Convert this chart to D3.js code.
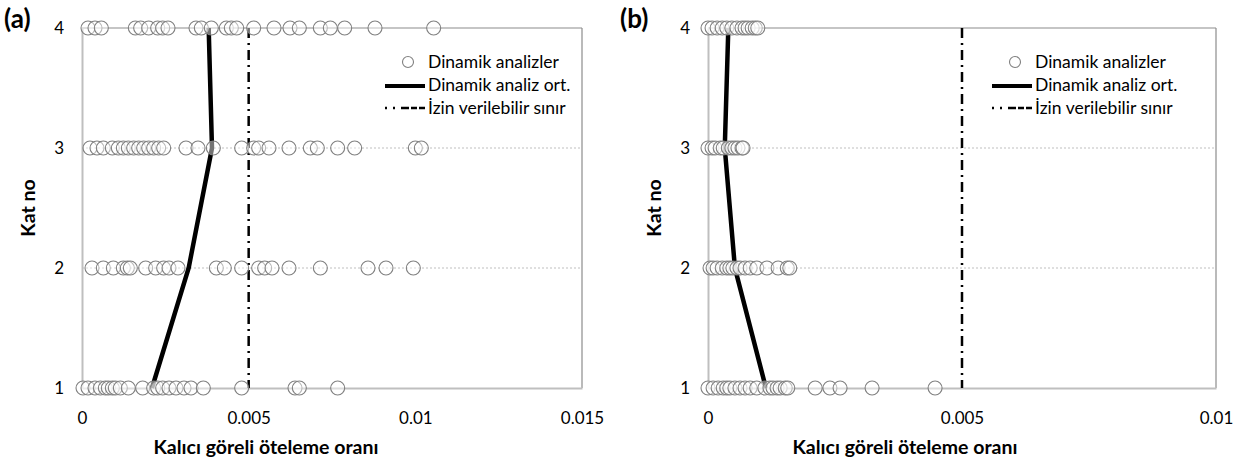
<!DOCTYPE html>
<html><head><meta charset="utf-8">
<script src="https://cdn.jsdelivr.net/npm/d3@7"></script>
<style>
body{margin:0;background:#fff}
text{font-family:Lato,"Open Sans","DejaVu Sans",sans-serif;fill:#000}
</style>
</head><body>
<svg id="chart" width="1244" height="463"></svg>
<script>
// Residual inter-storey drift ratios per floor, from the dynamic analyses
const floors = [1, 2, 3, 4];

// Panel (a)
const aFloor1 = [0.00003,0.00018,0.00039,0.00055,0.0007,0.00079,0.00091,0.001,0.00115,0.00139,0.00182,0.00215,0.00227,0.00242,0.00261,0.00282,0.00306,0.00327,0.00364,0.00479,0.00639,0.00652,0.00767];
const aFloor2 = [0.0003,0.00064,0.00094,0.00124,0.00136,0.00145,0.00191,0.00221,0.00245,0.00261,0.00288,0.00403,0.00427,0.00479,0.0053,0.00548,0.0057,0.00621,0.00715,0.00858,0.00912,0.00994];
const aFloor3 = [0.00024,0.00045,0.00064,0.00091,0.00109,0.00124,0.00139,0.00155,0.0017,0.00185,0.002,0.00215,0.0023,0.00245,0.00312,0.00348,0.00394,0.00479,0.00515,0.0053,0.00561,0.00621,0.00685,0.00706,0.00767,0.00818,0.01,0.01018];
const aFloor4 = [0.00018,0.00039,0.00058,0.0016,0.00176,0.002,0.00227,0.00242,0.00258,0.00342,0.00358,0.00388,0.00433,0.00448,0.00464,0.00515,0.00576,0.00624,0.00652,0.00715,0.00745,0.00788,0.00879,0.01055];
const aMean = [0.0021, 0.0032, 0.0039, 0.0038];

// Panel (b)
const bFloor1 = [0,0.0001,0.0002,0.0003,0.00037,0.00043,0.00053,0.00063,0.00073,0.00083,0.00096,0.00112,0.00122,0.00128,0.00136,0.00142,0.00152,0.00157,0.00211,0.0024,0.0026,0.00323,0.00447];
const bFloor2 = [0.00004,0.0001,0.00018,0.00028,0.00037,0.00043,0.00049,0.00057,0.00063,0.00073,0.00083,0.00096,0.00116,0.00138,0.00156,0.00161];
const bFloor3 = [0,0.00008,0.00014,0.00024,0.0003,0.0004,0.00047,0.00053,0.00059,0.00067,0.00069];
const bFloor4 = [0,0.00008,0.00018,0.00028,0.00037,0.00047,0.00057,0.00067,0.00073,0.00079,0.00087,0.00093,0.00098];
const bMean = [0.00114, 0.00053, 0.00033, 0.0004];

const driftLimit = 0.005;
const aTicks = [0, 0.005, 0.01, 0.015];
const bTicks = [0, 0.005, 0.01];
const legendLabels = ["Dinamik analizler", "Dinamik analiz ort.", "İzin verilebilir sınır"];
const xTitle = "Kalıcı göreli öteleme oranı";
const yTitle = "Kat no";

const svg = d3.select("#chart");
const TOP = 28, BOTTOM = 388;
const FONT = "Lato,'Open Sans',sans-serif";

function drawPanel(p) {
  const g = svg.append("g");
  const x = d3.scaleLinear().domain([0, p.ticks[p.ticks.length - 1]]).range([p.left, p.right]);
  const y = d3.scaleLinear().domain([1, 4]).range([BOTTOM, TOP]);

  // dotted gridlines at intermediate floors
  g.selectAll("line.grid").data([2, 3]).join("line")
    .attr("x1", p.left).attr("x2", p.right)
    .attr("y1", d => y(d)).attr("y2", d => y(d))
    .attr("stroke", "#bfbfbf").attr("stroke-width", 1).attr("stroke-dasharray", "2,2");

  // plot frame: top and right
  g.append("line").attr("x1", p.left).attr("x2", p.right).attr("y1", y(4)).attr("y2", y(4))
    .attr("stroke", "#8c8c8c").attr("stroke-width", 1.2);
  g.append("line").attr("x1", p.right).attr("x2", p.right).attr("y1", y(4)).attr("y2", y(1))
    .attr("stroke", "#8c8c8c").attr("stroke-width", 1.2);

  // axes
  const xAxis = d3.axisBottom(x).tickValues(p.ticks).tickSize(0).tickPadding(24)
    .tickFormat(d => String(+d.toFixed(3)));
  const gx = g.append("g").attr("transform", `translate(0,${BOTTOM})`).call(xAxis);
  gx.select(".domain").attr("stroke", "#bfbfbf").attr("stroke-width", 2);
  gx.selectAll("text").attr("font-size", 17).attr("font-family", FONT).attr("fill", "#000");

  const yAxis = d3.axisLeft(y).tickValues(floors).tickSize(0).tickPadding(18).tickFormat(d3.format("d"));
  const gy = g.append("g").attr("transform", `translate(${p.left},0)`).call(yAxis);
  gy.select(".domain").attr("stroke", "#bfbfbf").attr("stroke-width", 2);
  gy.selectAll("text").attr("font-size", 17).attr("font-family", FONT).attr("fill", "#000");

  // permissible limit
  g.append("line").attr("x1", x(driftLimit)).attr("x2", x(driftLimit))
    .attr("y1", y(4)).attr("y2", y(1))
    .attr("stroke", "#000").attr("stroke-width", 2.5).attr("stroke-dasharray", "10,5,2,5");

  // mean profile
  const line = d3.line().x(d => x(d[0])).y(d => y(d[1]));
  g.append("path").datum(p.mean.map((v, i) => [v, floors[i]]))
    .attr("d", line).attr("fill", "none").attr("stroke", "#000").attr("stroke-width", 4.5);

  // individual analyses
  const pts = [];
  p.rows.forEach((arr, i) => arr.forEach(v => pts.push([v, floors[i]])));
  g.selectAll("circle.pt").data(pts).join("circle")
    .attr("cx", d => x(d[0])).attr("cy", d => y(d[1])).attr("r", 7)
    .attr("fill", "#fff").attr("fill-opacity", 0.45)
    .attr("stroke", "#808080").attr("stroke-width", 1.1);

  // titles
  g.append("text").attr("x", p.panelX).attr("y", 28).attr("font-size", 26).attr("font-weight", "bold").text(p.tag);
  g.append("text").attr("transform", `translate(${p.left - 47},${(TOP + BOTTOM) / 2}) rotate(-90)`)
    .attr("text-anchor", "middle").attr("font-size", 19.5).attr("font-weight", "bold").text(yTitle);
  g.append("text").attr("x", p.titleX).attr("y", 454).attr("text-anchor", "middle")
    .attr("font-size", 19.5).attr("font-weight", "bold").text(xTitle);

  // legend
  const lx = p.legendX;
  const lg = g.append("g");
  lg.append("circle").attr("cx", lx + 23).attr("cy", 62).attr("r", 5.5)
    .attr("fill", "#fff").attr("stroke", "#808080").attr("stroke-width", 1.1);
  lg.append("line").attr("x1", lx).attr("x2", lx + 40).attr("y1", 86).attr("y2", 86)
    .attr("stroke", "#000").attr("stroke-width", 4);
  lg.append("line").attr("x1", lx).attr("x2", lx + 40).attr("y1", 108).attr("y2", 108)
    .attr("stroke", "#000").attr("stroke-width", 2.5).attr("stroke-dasharray", "2,6,2,6,8");
  lg.selectAll("text").data(legendLabels).join("text")
    .attr("x", lx + 43).attr("y", (d, i) => 68 + i * 23)
    .attr("font-size", 17.5).text(d => d);
}

drawPanel({ tag: "(a)", panelX: 4, left: 82, right: 582, ticks: aTicks, mean: aMean,
  rows: [aFloor1, aFloor2, aFloor3, aFloor4], titleX: 266, legendX: 385 });
drawPanel({ tag: "(b)", panelX: 620, left: 708, right: 1216, ticks: bTicks, mean: bMean,
  rows: [bFloor1, bFloor2, bFloor3, bFloor4], titleX: 905, legendX: 992 });
</script>
</body></html>
